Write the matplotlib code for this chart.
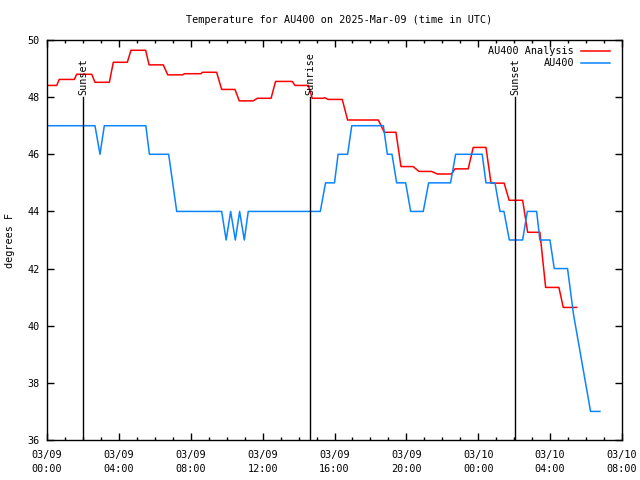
import numpy as np
import matplotlib
matplotlib.use("Agg")
import matplotlib.pyplot as plt

plt.rcParams['font.family'] = ['DejaVu Sans Mono']
plt.rcParams['font.size'] = 7.3

# hours since 03/09 00:00 UTC
obs_t = [0, 2.67, 2.95, 3.19, 5.5, 5.7, 6.77, 7.22, 9.72, 9.97,
         10.22, 10.48, 10.72, 10.98, 11.2, 15.21, 15.5, 16.0, 16.2, 16.73,
         16.96, 18.72, 18.94, 19.2, 19.46, 19.96, 20.24, 20.94, 21.24, 22.46,
         22.74, 24.22, 24.43, 24.93, 25.21, 25.43, 25.73, 26.47, 26.73, 27.25,
         27.43, 27.99, 28.23, 28.97, 29.3, 30.25, 30.77]
obs_v = [47, 47, 46, 47, 47, 46, 46, 44, 44, 43,
         44, 43, 44, 43, 44, 44, 45, 45, 46, 46,
         47, 47, 46, 46, 45, 45, 44, 44, 45, 45,
         46, 46, 45, 45, 44, 44, 43, 43, 44, 44,
         43, 43, 42, 42, 40.4, 37, 37]

ana_t = [0, 0.54, 0.68, 1.52, 1.65, 2.49, 2.67, 3.47, 3.69, 4.47,
         4.67, 5.49, 5.68, 6.47, 6.72, 7.55, 7.65, 8.57, 8.65, 9.44,
         9.72, 10.46, 10.7, 11.48, 11.7, 12.47, 12.72, 13.65, 13.8, 14.54,
         14.76, 15.38, 15.45, 15.65, 16.43, 16.73, 18.44, 18.77, 19.42, 19.70,
         20.38, 20.70, 21.4, 21.72, 22.52, 22.7, 23.44, 23.72, 24.43, 24.71,
         25.44, 25.72, 26.47, 26.75, 27.43, 27.75, 28.49, 28.73, 29.47]
ana_v = [48.41, 48.41, 48.62, 48.62, 48.8, 48.8, 48.52, 48.52, 49.22, 49.22,
         49.64, 49.64, 49.13, 49.13, 48.78, 48.78, 48.82, 48.82, 48.87, 48.87,
         48.27, 48.27, 47.87, 47.87, 47.96, 47.96, 48.55, 48.55, 48.41, 48.41,
         47.96, 47.96, 47.98, 47.92, 47.92, 47.2, 47.2, 46.77, 46.77, 45.57,
         45.57, 45.4, 45.4, 45.31, 45.31, 45.49, 45.49, 46.24, 46.24, 44.99,
         44.99, 44.39, 44.39, 43.27, 43.27, 41.34, 41.34, 40.64, 40.64]

sun_t = [2.02, 14.64, 26.06]
sun_lbl = ["Sunset", "Sunrise", "Sunset"]

xticks = [0, 4, 8, 12, 16, 20, 24, 28, 32]
xlabels = ["03/09\n00:00", "03/09\n04:00", "03/09\n08:00", "03/09\n12:00",
           "03/09\n16:00", "03/09\n20:00", "03/10\n00:00", "03/10\n04:00",
           "03/10\n08:00"]

fig = plt.figure(figsize=(6.4, 4.8), dpi=100)
ax = fig.add_axes([47/640, 40/480, 575/640, 400/480])

ax.plot(ana_t, ana_v, color="#ff0000", lw=1.1)
ax.plot(obs_t, obs_v, color="#0a84ff", lw=1.1)

for t, lbl in zip(sun_t, sun_lbl):
    ax.plot([t, t], [36, 48], color="black", lw=1)
    ax.text(t, 48.08, lbl, rotation=90, ha="center", va="bottom")

ax.set_xlim(0, 32)
ax.set_ylim(36, 50)
ax.set_xticks(xticks)
ax.set_xticklabels(xlabels, linespacing=1.5)
ax.set_xticks(np.arange(0, 33, 1), minor=True)
ax.set_yticks(np.arange(36, 51, 2))
ax.tick_params(which="both", direction="in", top=True, right=True, width=1)
ax.tick_params(which="major", length=5)
ax.tick_params(axis="x", which="major", pad=7)
ax.tick_params(axis="y", which="major", pad=5)
ax.tick_params(which="minor", length=2.5)
for s in ax.spines.values():
    s.set_linewidth(1)

fig.text(10/640, 0.5, "degrees F", rotation=90, ha="center", va="center")
fig.text(339/640, 1 - 20/480, "Temperature for AU400 on 2025-Mar-09 (time in UTC)",
         ha="center", va="center")

# legend, drawn by hand so the labels are right-aligned like the original
for i, (lbl, col) in enumerate([("AU400 Analysis", "#ff0000"), ("AU400", "#0a84ff")]):
    y = 1 - (50.5 + i * 12.7) / 480
    fig.text(574/640, y, lbl, ha="right", va="center")
    fig.add_artist(plt.Line2D([581/640, 610/640], [y, y], color=col, lw=1.1))

fig.savefig("out.png", dpi=100)
